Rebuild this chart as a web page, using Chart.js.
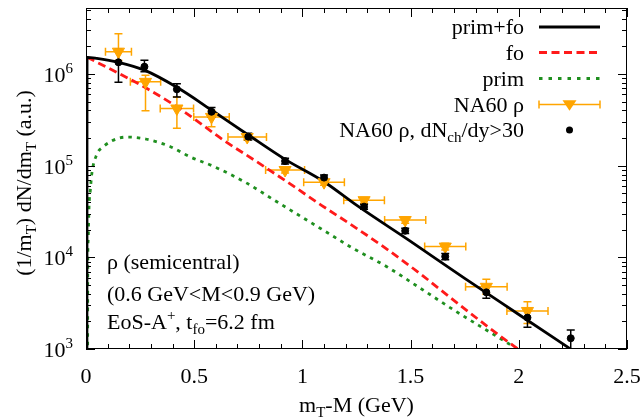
<!DOCTYPE html>
<html>
<head>
<meta charset="utf-8" />
<title>rho mT spectrum</title>
<script src="https://cdn.jsdelivr.net/npm/chart.js@4"></script>
<style>html,body{margin:0;padding:0;background:#fff} canvas{display:block}</style>
</head>
<body>
<canvas id="chart" width="643" height="419"></canvas>
<script>
// axis ticks
const xTicks = [0, 0.5, 1, 1.5, 2, 2.5];
const xTickLabels = ['0', '0.5', '1', '1.5', '2', '2.5'];
const yTicks = [1e3, 1e4, 1e5, 1e6];
const yTickExp = ['3', '4', '5', '6'];

// prim+fo (black solid)
const totX = [0.004, 0.005, 0.05, 0.15, 0.27, 0.42, 0.58, 0.75, 0.92, 1.1, 1.25, 1.5, 1.75, 2.0, 2.25];
const totY = [10, 1.52e6, 1.48e6, 1.34e6, 1.10e6, 7.15e5, 4.04e5, 2.16e5, 1.17e5, 6.67e4, 3.7e4, 1.49e4, 5.9e3, 2.38e3, 9.6e2];

// fo (red dashed)
const foX = [0.005, 0.15, 0.28, 0.42, 0.5, 0.635, 0.79, 0.94, 1.09, 1.235, 1.39, 1.545, 1.7, 1.85, 2.0];
const foY = [1.52e6, 1.02e6, 6.97e5, 4.39e5, 3.24e5, 1.9e5, 1.1e5, 6.4e4, 3.67e4, 2.19e4, 1.23e4, 6.6e3, 3.39e3, 1.8e3, 9.8e2];

// prim (green dotted)
const primX = [0.007, 0.008, 0.01, 0.014, 0.02, 0.027, 0.049, 0.08, 0.15, 0.2, 0.28, 0.39, 0.48, 0.59, 0.74, 0.87, 1.08, 1.235, 1.39, 1.545, 1.7, 1.85, 2.0];
const primY = [10, 6e3, 1.55e4, 3.56e4, 5.4e4, 8.2e4, 1.31e5, 1.61e5, 1.99e5, 2.05e5, 1.94e5, 1.61e5, 1.25e5, 9.8e4, 6.5e4, 4.2e4, 2.09e4, 1.25e4, 7.9e3, 4.6e3, 2.66e3, 1.61e3, 9.8e2];

// NA60 rho (orange triangles)
const na60X = [0.15, 0.275, 0.42, 0.58, 0.745, 0.92, 1.10, 1.285, 1.475, 1.66, 1.85, 2.04];
const na60Y = [1.75e6, 8.2e5, 4.2e5, 3.4e5, 2.05e5, 8.96e4, 6.6e4, 4.2e4, 2.55e4, 1.31e4, 4.77e3, 2.6e3];
const na60Dx = [0.06, 0.07, 0.077, 0.082, 0.089, 0.09, 0.094, 0.094, 0.095, 0.095, 0.096, 0.095];
const na60Hi = [2.75e6, 9.7e5, 5.6e5, 4.0e5, 2.2e5, 9.6e4, 7.1e4, 4.5e4, 2.75e4, 1.42e4, 5.76e3, 3.28e3];
const na60Lo = [1.4e6, 3.97e5, 2.55e5, 2.65e5, 1.9e5, 8.3e4, 6.1e4, 3.9e4, 2.35e4, 1.2e4, 3.95e3, 1.9e3];

// NA60 rho, dNch/dy>30 (black dots)
const centX = [0.15, 0.27, 0.42, 0.58, 0.75, 0.92, 1.10, 1.285, 1.475, 1.66, 1.85, 2.04, 2.24];
const centY = [1.34e6, 1.2e6, 6.8e5, 3.87e5, 2.07e5, 1.12e5, 7.4e4, 3.57e4, 1.95e4, 1.02e4, 4.15e3, 2.2e3, 1.31e3];
const centHi = [1.86e6, 1.41e6, 7.8e5, 4.3e5, 2.25e5, 1.2e5, 7.9e4, 3.8e4, 2.08e4, 1.1e4, 4.9e3, 2.71e3, 1.61e3];
const centLo = [8.1e5, 1.06e6, 5.6e5, 3.37e5, 1.9e5, 1.04e5, 6.9e4, 3.35e4, 1.82e4, 9.4e3, 3.57e3, 1.73e3, 9e2];

const FONT = '"Liberation Serif", "DejaVu Serif", serif';
const FS = 22, FS_SMALL = 15;
const RED = '#ff1a1a', GREEN = '#1f8f1f', ORANGE = '#ffa500';

function pts(xs, ys) { return xs.map((x, i) => ({ x: x, y: ys[i] })); }

// text with sub/superscripts: parts = [[text, 0|1|-1], ...]
function rich(c, parts, x, y, align) {
  let w = 0;
  parts.forEach(p => {
    c.font = (p[1] ? FS_SMALL : FS) + 'px ' + FONT;
    w += c.measureText(p[0]).width;
  });
  let cx = align === 'right' ? x - w : align === 'center' ? x - w / 2 : x;
  c.textAlign = 'left';
  c.textBaseline = 'alphabetic';
  parts.forEach(p => {
    c.font = (p[1] ? FS_SMALL : FS) + 'px ' + FONT;
    const dy = p[1] === 1 ? -9 : p[1] === -1 ? 5 : 0;
    c.fillText(p[0], cx, y + dy);
    cx += c.measureText(p[0]).width;
  });
}

function vbar(c, x, y1, y2, cap) {
  c.beginPath();
  c.moveTo(x, y1); c.lineTo(x, y2);
  c.moveTo(x - cap, y1); c.lineTo(x + cap, y1);
  c.moveTo(x - cap, y2); c.lineTo(x + cap, y2);
  c.stroke();
}
function hbar(c, x1, x2, y, cap) {
  c.beginPath();
  c.moveTo(x1, y); c.lineTo(x2, y);
  c.moveTo(x1, y - cap); c.lineTo(x1, y + cap);
  c.moveTo(x2, y - cap); c.lineTo(x2, y + cap);
  c.stroke();
}
function triangleDown(c, x, y, r) {
  c.beginPath();
  c.moveTo(x - r, y - r * 0.6);
  c.lineTo(x + r, y - r * 0.6);
  c.lineTo(x, y + r * 0.9);
  c.closePath();
  c.fill();
}

const gnuplotFrame = {
  id: 'gnuplotFrame',
  beforeDatasetsDraw(chart) {
    const c = chart.ctx, a = chart.chartArea;
    const xs = chart.scales.x, ys = chart.scales.y;
    c.save();
    c.beginPath();
    c.rect(a.left, a.top, a.right - a.left, a.bottom - a.top);
    c.clip();
    c.lineWidth = 1.5;
    c.strokeStyle = ORANGE;
    na60X.forEach((x, i) => {
      const px = xs.getPixelForValue(x), py = ys.getPixelForValue(na60Y[i]);
      hbar(c, xs.getPixelForValue(x - na60Dx[i]), xs.getPixelForValue(x + na60Dx[i]), py, 4);
      vbar(c, px, ys.getPixelForValue(na60Hi[i]), ys.getPixelForValue(na60Lo[i]), 4);
    });
    c.strokeStyle = '#000';
    centX.forEach((x, i) => {
      vbar(c, xs.getPixelForValue(x), ys.getPixelForValue(centHi[i]), ys.getPixelForValue(centLo[i]), 4);
    });
    c.restore();
  },
  afterDraw(chart) {
    const c = chart.ctx, a = chart.chartArea;
    const xs = chart.scales.x, ys = chart.scales.y;
    c.save();
    c.strokeStyle = '#000';
    c.fillStyle = '#000';
    c.lineWidth = 1;
    c.strokeRect(a.left + 0.5, a.top + 0.5, a.right - a.left - 1, a.bottom - a.top - 1);

    // x ticks, mirrored on top
    c.beginPath();
    for (let k = 0; k <= 25; k++) {
      const px = Math.round(xs.getPixelForValue(k / 10)) + 0.5;
      const len = k % 5 === 0 ? 9 : 5;
      c.moveTo(px, a.bottom); c.lineTo(px, a.bottom - len);
      c.moveTo(px, a.top); c.lineTo(px, a.top + len);
    }
    // y ticks, mirrored on right
    for (let e = 3; e <= 6; e++) {
      for (let m = 1; m <= 9; m++) {
        const v = m * Math.pow(10, e);
        if (v > ys.max) break;
        const py = Math.round(ys.getPixelForValue(v)) + 0.5;
        const len = m === 1 ? 9 : 5;
        c.moveTo(a.left, py); c.lineTo(a.left + len, py);
        c.moveTo(a.right, py); c.lineTo(a.right - len, py);
      }
    }
    c.stroke();

    // tick labels
    xTicks.forEach((v, i) => {
      rich(c, [[xTickLabels[i], 0]], xs.getPixelForValue(v), a.bottom + 34, 'center');
    });
    yTicks.forEach((v, i) => {
      rich(c, [['10', 0], [yTickExp[i], 1]], a.left - 13, ys.getPixelForValue(v) + 8, 'right');
    });

    // axis titles
    rich(c, [['m', 0], ['T', -1], ['-M (GeV)', 0]], (a.left + a.right) / 2, 412, 'center');
    c.save();
    c.translate(31, 183);
    c.rotate(-Math.PI / 2);
    rich(c, [['(1/m', 0], ['T', -1], [') dN/dm', 0], ['T', -1], [' (a.u.)', 0]], 0, 0, 'center');
    c.restore();

    // legend
    const lx1 = 539, lx2 = 600, tx = 524;
    const rows = [27, 52.5, 78.5, 104.5, 130];
    const labels = [
      [['prim+fo', 0]],
      [['fo', 0]],
      [['prim', 0]],
      [['NA60 \u03c1', 0]],
      [['NA60 \u03c1, dN', 0], ['ch', -1], ['/dy>30', 0]]
    ];
    labels.forEach((p, i) => rich(c, p, tx, rows[i] + 7, 'right'));
    c.lineWidth = 2.8;
    c.strokeStyle = '#000';
    c.beginPath(); c.moveTo(lx1, rows[0]); c.lineTo(lx2, rows[0]); c.stroke();
    c.strokeStyle = RED; c.setLineDash([8, 4.5]);
    c.beginPath(); c.moveTo(lx1, rows[1]); c.lineTo(lx2, rows[1]); c.stroke();
    c.strokeStyle = GREEN; c.setLineDash([3.5, 6]);
    c.beginPath(); c.moveTo(lx1, rows[2]); c.lineTo(lx2, rows[2]); c.stroke();
    c.setLineDash([]);
    c.lineWidth = 1.5; c.strokeStyle = ORANGE; c.fillStyle = ORANGE;
    hbar(c, lx1, lx2, rows[3], 4);
    triangleDown(c, (lx1 + lx2) / 2, rows[3], 7);
    c.fillStyle = '#000';
    c.beginPath(); c.arc((lx1 + lx2) / 2, rows[4], 3.5, 0, Math.PI * 2); c.fill();

    // annotation
    rich(c, [['\u03c1 (semicentral)', 0]], 107, 269, 'left');
    rich(c, [['(0.6 GeV<M<0.9 GeV)', 0]], 107, 301, 'left');
    rich(c, [['EoS-A', 0], ['+', 1], [', t', 0], ['fo', -1], ['=6.2 fm', 0]], 107, 329, 'left');
    c.restore();
  }
};

const lineDs = (label, xs, ys, color, dash) => ({
  type: 'line',
  label: label,
  data: pts(xs, ys),
  borderColor: color,
  borderWidth: 2.8,
  borderDash: dash,
  pointRadius: 0,
  fill: false,
  cubicInterpolationMode: 'monotone'
});

new Chart(document.getElementById('chart').getContext('2d'), {
  type: 'scatter',
  data: {
    datasets: [
      {
        label: 'NA60 \u03c1, dNch/dy>30',
        data: pts(centX, centY),
        backgroundColor: '#000',
        borderColor: '#000',
        pointRadius: 3.5,
        pointStyle: 'circle'
      },
      {
        label: 'NA60 \u03c1',
        data: pts(na60X, na60Y),
        backgroundColor: ORANGE,
        borderColor: ORANGE,
        pointRadius: 7,
        pointStyle: 'triangle',
        rotation: 180
      },
      lineDs('prim+fo', totX, totY, '#000', []),
      lineDs('fo', foX, foY, RED, [8, 4.5]),
      lineDs('prim', primX, primY, GREEN, [3.5, 5])
    ]
  },
  options: {
    responsive: false,
    animation: false,
    devicePixelRatio: 1,
    layout: { padding: { top: 8, right: 16, left: 0, bottom: 0 } },
    plugins: { legend: { display: false }, tooltip: { enabled: false } },
    scales: {
      x: {
        type: 'linear', min: 0, max: 2.5,
        grid: { display: false }, border: { display: false },
        ticks: { display: false },
        afterFit: s => { s.height = 70; }
      },
      y: {
        type: 'logarithmic', min: 1e3, max: 5.24e6,
        grid: { display: false }, border: { display: false },
        ticks: { display: false },
        afterFit: s => { s.width = 86; }
      }
    }
  },
  plugins: [gnuplotFrame]
});
</script>
</body>
</html>
